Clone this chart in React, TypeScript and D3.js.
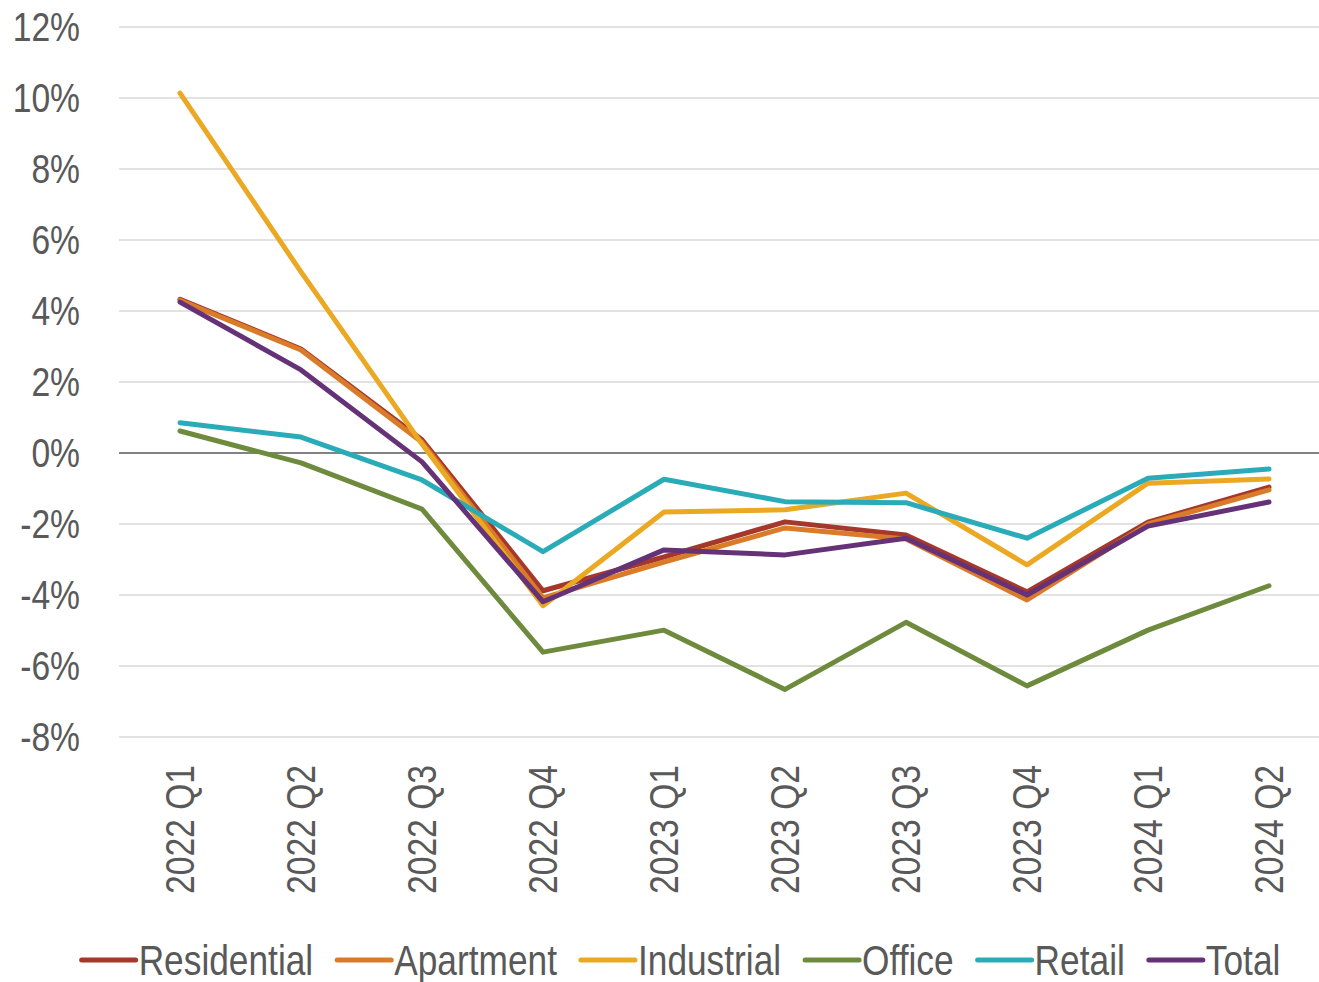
import React, { useEffect, useRef } from "react";
import * as d3 from "d3";

const categories = ["2022 Q1", "2022 Q2", "2022 Q3", "2022 Q4", "2023 Q1", "2023 Q2", "2023 Q3", "2023 Q4", "2024 Q1", "2024 Q2"];
const yTicks = [-8, -6, -4, -2, 0, 2, 4, 6, 8, 10, 12];

const residential = [4.33, 2.93, 0.37, -3.88, -2.93, -1.94, -2.31, -3.91, -1.95, -0.96];
const apartment = [4.3, 2.9, 0.3, -4.08, -3.07, -2.11, -2.42, -4.14, -2.0, -1.04];
const industrial = [10.14, 5.1, 0.25, -4.3, -1.66, -1.6, -1.13, -3.15, -0.85, -0.73];
const office = [0.62, -0.28, -1.58, -5.61, -4.99, -6.66, -4.77, -6.56, -4.99, -3.74];
const retail = [0.85, 0.45, -0.76, -2.78, -0.74, -1.37, -1.4, -2.4, -0.71, -0.45];
const total = [4.25, 2.34, -0.25, -4.19, -2.73, -2.87, -2.4, -4.0, -2.06, -1.38];

const seriesNames = ["Residential", "Apartment", "Industrial", "Office", "Retail", "Total"];
const seriesValues = [residential, apartment, industrial, office, retail, total];
const seriesColors = ["#A5382A", "#D97B29", "#EBA823", "#6E8B3D", "#2AACB8", "#653278"];

const W = 1319;
const H = 982;
const FONT = "'Liberation Sans', Arial, sans-serif";
const TEXT = "#595959";

function narrowEl(el: SVGTextElement, k: number): number {
  const w = el.getComputedTextLength() * k;
  el.setAttribute("textLength", String(w));
  el.setAttribute("lengthAdjust", "spacingAndGlyphs");
  return w;
}

export default function App() {
  const ref = useRef<SVGSVGElement>(null);

  useEffect(() => {
    const svg = d3.select(ref.current);
    svg.selectAll("*").remove();

    const left = 119, right = 1319, top = 27, bottom = 737;
    const x = d3.scaleBand<string>().domain(categories).range([119.5, 119.5 + 121 * categories.length]);
    const y = d3.scaleLinear().domain([-8, 12]).range([bottom, top]);

    svg.append("g")
      .selectAll("line")
      .data(yTicks.filter((t) => t !== 0))
      .join("line")
      .attr("x1", left)
      .attr("x2", right)
      .attr("y1", (d) => y(d))
      .attr("y2", (d) => y(d))
      .attr("stroke", "#D9D9D9")
      .attr("stroke-width", 1.5);

    svg.append("line")
      .attr("x1", left).attr("x2", right)
      .attr("y1", y(0)).attr("y2", y(0))
      .attr("stroke", "#595959").attr("stroke-width", 1.5);

    svg.append("g")
      .selectAll("text")
      .data(yTicks)
      .join("text")
      .attr("x", 80)
      .attr("y", (d) => y(d))
      .attr("text-anchor", "end")
      .attr("dominant-baseline", "central")
      .attr("font-family", FONT)
      .attr("font-size", 41)
      .attr("fill", TEXT)
      .text((d) => `${d}%`)
      .each(function () { narrowEl(this as SVGTextElement, 0.82); });

    svg.append("g")
      .selectAll("text")
      .data(categories)
      .join("text")
      .attr("transform", (d) => `translate(${(x(d) as number) + x.bandwidth() / 2},765) rotate(-90)`)
      .attr("text-anchor", "end")
      .attr("dominant-baseline", "central")
      .attr("font-family", FONT)
      .attr("font-size", 41)
      .attr("fill", TEXT)
      .text((d) => d)
      .each(function () { narrowEl(this as SVGTextElement, 0.82); });

    const line = d3.line<number>()
      .x((_, i) => (x(categories[i]) as number) + x.bandwidth() / 2)
      .y((d) => y(d));

    svg.append("g")
      .selectAll("path")
      .data(seriesValues)
      .join("path")
      .attr("d", (d) => line(d))
      .attr("fill", "none")
      .attr("stroke", (_, i) => seriesColors[i])
      .attr("stroke-width", 5)
      .attr("stroke-linejoin", "round")
      .attr("stroke-linecap", "round");

    const lg = svg.append("g");
    const swatch = 56;
    const gap = 3;
    const itemGap = 22;
    const items = seriesNames.map((name, i) => {
      const g = lg.append("g");
      g.append("line")
        .attr("x1", 2).attr("x2", swatch)
        .attr("y1", 0).attr("y2", 0)
        .attr("stroke", seriesColors[i])
        .attr("stroke-width", 5)
        .attr("stroke-linecap", "round");
      const t = g.append("text")
        .attr("x", swatch + gap)
        .attr("y", 0)
        .attr("dominant-baseline", "central")
        .attr("font-family", FONT)
        .attr("font-size", 42)
        .attr("fill", TEXT)
        .text(name);
      const w = narrowEl(t.node() as SVGTextElement, 0.84);
      return { g, w: swatch + gap + w };
    });
    const totalW = d3.sum(items, (d) => d.w) + itemGap * (items.length - 1);
    let cx = 680 - totalW / 2;
    items.forEach((it) => {
      it.g.attr("transform", `translate(${cx},960)`);
      cx += it.w + itemGap;
    });
  }, []);

  return (
    <svg
      ref={ref}
      width={W}
      height={H}
      style={{ position: "absolute", left: 0, top: 0, background: "#fff" }}
    />
  );
}
